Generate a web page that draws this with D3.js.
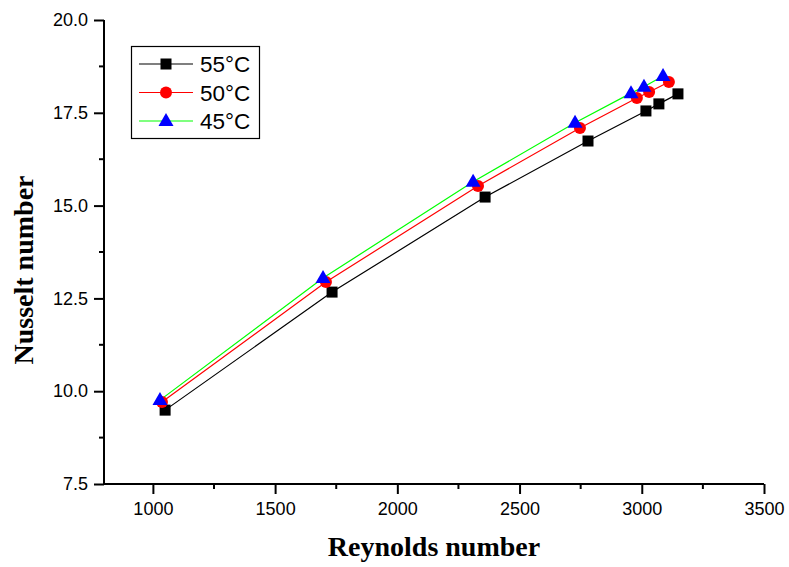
<!DOCTYPE html>
<html>
<head>
<meta charset="utf-8">
<script src="https://cdn.jsdelivr.net/npm/d3@7"></script>
<style>
  html, body { margin: 0; padding: 0; background: #fff; }
  svg { display: block; }
</style>
</head>
<body>
<svg id="chart" width="789" height="567"></svg>
<script>
// Nusselt number vs Reynolds number at three inlet temperatures
const seriesNames = ["55°C", "50°C", "45°C"];
const re55 = [1050, 1733, 2359, 2780, 3017, 3070, 3148];
const nu55 = [9.49, 12.67, 15.23, 16.74, 17.55, 17.74, 18.01];
const re50 = [1037, 1708, 2330, 2747, 2980, 3030, 3111];
const nu50 = [9.71, 12.94, 15.53, 17.09, 17.90, 18.06, 18.33];
const re45 = [1029, 1696, 2310, 2727, 2956, 3009, 3087];
const nu45 = [9.76, 13.05, 15.64, 17.23, 18.03, 18.20, 18.49];
const xTicks = [1000, 1500, 2000, 2500, 3000, 3500];
const yTicks = [7.5, 10.0, 12.5, 15.0, 17.5, 20.0];

const series = [
  { name: seriesNames[0], x: re55, y: nu55, line: "#000000", fill: "#000000", shape: "square" },
  { name: seriesNames[1], x: re50, y: nu50, line: "#ff0000", fill: "#ff0000", shape: "circle" },
  { name: seriesNames[2], x: re45, y: nu45, line: "#00ff00", fill: "#0000ff", shape: "triangle" }
];

const svg = d3.select("#chart");
const x = d3.scaleLinear().domain([800, 3500]).range([104, 764]);
const y = d3.scaleLinear().domain([7.5, 20]).range([484, 20]);

const tickFont = "Arial, 'Liberation Sans', sans-serif";
const titleFont = "'Times New Roman', 'Liberation Serif', serif";

// bottom axis: major + minor ticks
const xMinor = d3.range(1250, 3500, 500);
const gx = svg.append("g").attr("transform", "translate(0,484)");
gx.call(d3.axisBottom(x).tickValues(xTicks).tickSize(10).tickSizeOuter(0).tickPadding(8).tickFormat(d3.format("d")));
gx.selectAll(".minor").data(xMinor).enter().append("line")
  .attr("x1", d => x(d)).attr("x2", d => x(d)).attr("y1", 0).attr("y2", 5)
  .attr("stroke", "#000").attr("stroke-width", 2);

// left axis
const yMinor = d3.range(8.75, 20, 2.5);
const gy = svg.append("g").attr("transform", "translate(104,0)");
gy.call(d3.axisLeft(y).tickValues(yTicks).tickSize(10).tickSizeOuter(0).tickPadding(6).tickFormat(d3.format(".1f")));
gy.selectAll(".minor").data(yMinor).enter().append("line")
  .attr("x1", 0).attr("x2", -5).attr("y1", d => y(d)).attr("y2", d => y(d))
  .attr("stroke", "#000").attr("stroke-width", 2);

[gx, gy].forEach(g => {
  g.select(".domain").attr("stroke", "#000").attr("stroke-width", 2);
  g.selectAll(".tick line").attr("stroke", "#000").attr("stroke-width", 2);
  g.selectAll(".tick text").attr("font-family", tickFont).attr("font-size", 18).attr("fill", "#000");
});
// extend the domain lines so the corner joins cleanly
gx.select(".domain").attr("d", `M${x(800) - 1},0H${x(3500)}`);
gy.select(".domain").attr("d", `M0,${y(7.5) + 1}V${y(20)}`);

// marker drawing
function drawMarker(g, shape, fill, cx, cy) {
  if (shape === "square") {
    g.append("rect").attr("x", cx - 5.5).attr("y", cy - 5.5).attr("width", 11).attr("height", 11)
      .attr("fill", fill);
  } else if (shape === "circle") {
    g.append("circle").attr("cx", cx).attr("cy", cy).attr("r", 6).attr("fill", fill);
  } else {
    g.append("path")
      .attr("d", `M${cx},${cy - 8}L${cx + 7.5},${cy + 5}L${cx - 7.5},${cy + 5}Z`)
      .attr("fill", fill);
  }
}

const line = d3.line().x(d => x(d[0])).y(d => y(d[1]));
series.forEach(s => {
  const pts = s.x.map((v, i) => [v, s.y[i]]);
  svg.append("path").datum(pts).attr("d", line)
    .attr("fill", "none").attr("stroke", s.line).attr("stroke-width", 1.2);
});
series.forEach(s => {
  const g = svg.append("g");
  s.x.forEach((v, i) => drawMarker(g, s.shape, s.fill, x(v), y(s.y[i])));
});

// legend
const lg = svg.append("g");
lg.append("rect").attr("x", 131.5).attr("y", 46.5).attr("width", 128).attr("height", 92)
  .attr("fill", "#fff").attr("stroke", "#000").attr("stroke-width", 1.2);
series.forEach((s, i) => {
  const ly = 64 + i * 28.5;
  lg.append("line").attr("x1", 139).attr("x2", 193).attr("y1", ly).attr("y2", ly)
    .attr("stroke", s.line).attr("stroke-width", 1.2);
  drawMarker(lg, s.shape, s.fill, 166, ly);
  lg.append("text").attr("x", 200).attr("y", ly + 8)
    .attr("font-family", tickFont).attr("font-size", 22.5).attr("fill", "#000")
    .text(s.name);
});

// axis titles
svg.append("text").attr("x", 434).attr("y", 556).attr("text-anchor", "middle")
  .attr("font-family", titleFont).attr("font-weight", "bold")
  .attr("font-size", 28).attr("fill", "#000").text("Reynolds number");
svg.append("text").attr("transform", "translate(33,270) rotate(-90)").attr("text-anchor", "middle")
  .attr("font-family", titleFont).attr("font-weight", "bold")
  .attr("font-size", 28).attr("fill", "#000").text("Nusselt number");
</script>
</body>
</html>
